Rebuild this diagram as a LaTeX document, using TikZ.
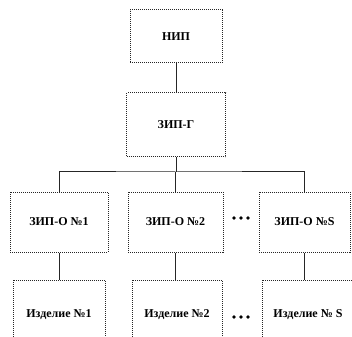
\documentclass[tikz,border=0pt]{standalone}
\usepackage{fontspec}
\setmainfont{Liberation Serif}
\begin{document}
\begin{tikzpicture}[x=1pt,y=-1pt,
  box/.style={draw=black!85, line width=1pt, densely dotted, rectangle, inner sep=0pt, font=\bfseries\fontsize{12}{14}\selectfont},
  conn/.style={draw=black!85, line width=1pt},
  dotc/.style={fill=black, circle, inner sep=0pt, minimum size=3.8pt}]
\useasboundingbox (0,0) rectangle (352,336);
\clip (0,0) rectangle (352,336);
\node[box, minimum width=92pt, minimum height=53pt] (nip) at (176,36.5) {НИП};
\node[box, minimum width=99pt, minimum height=64pt] (zipg) at (176,125) {ЗИП-Г};
\node[box, minimum width=98pt, minimum height=60pt] (o1) at (59,222) {ЗИП-О №1};
\node[box, minimum width=95pt, minimum height=60pt] (o2) at (175.5,222) {ЗИП-О №2};
\node[box, minimum width=91pt, minimum height=60pt] (oS) at (304.5,222) {ЗИП-О №S};
\node[box, minimum width=92pt, minimum height=70pt] (i1) at (59,315) {Изделие №1};
\node[box, minimum width=90pt, minimum height=70pt] (i2) at (177,315) {Изделие №2};
\node[box, minimum width=92pt, minimum height=70pt] (iS) at (308,315) {Изделие № S};
\coordinate (bus) at (176,172);
\draw[conn] (nip.south) -- (zipg.north);
\draw[conn] (zipg.south) -- (bus);
\draw[conn] (o1.north) |- (bus) -| (oS.north);
\draw[conn] (o2.north) -- (o2.north |- bus);
\draw[conn] (o1.south) -- (i1.north);
\draw[conn] (o2.south) -- (o2.south |- i2.north);
\draw[conn] (oS.south) -- (oS.south |- iS.north);
\foreach \x [count=\i] in {234,241,248} {
  \node[dotc] (da\i) at (\x,218) {};
  \node[dotc] (db\i) at (\x,317) {};
}
\end{tikzpicture}
\end{document}
